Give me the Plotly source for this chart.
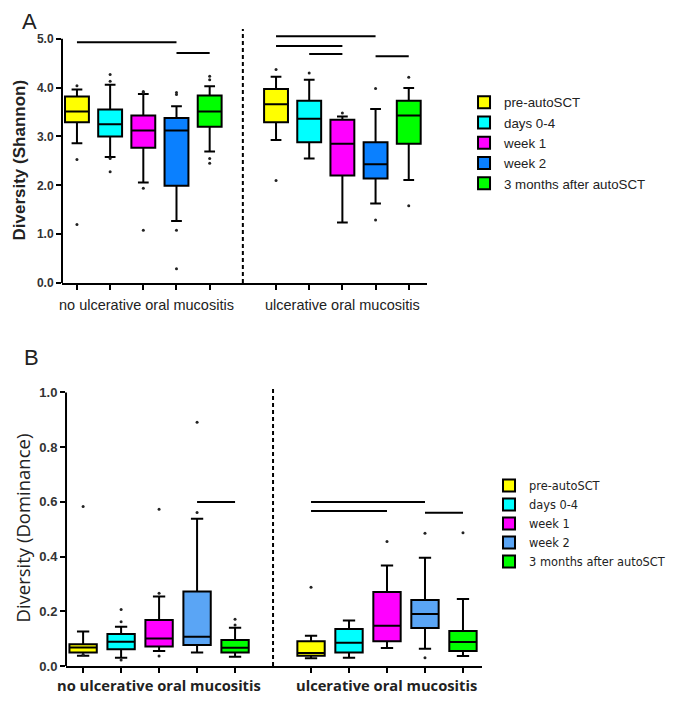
import plotly.graph_objects as go

# time points (legend) and the two patient groups
timepoints = ["pre-autoSCT", "days 0-4", "week 1", "week 2", "3 months after autoSCT"]
groups = ["no ulcerative oral mucositis", "ulcerative oral mucositis"]
colorsA = ["#FFFF00", "#00FFFF", "#FF00FF", "#0A80FF", "#00FF00"]
colorsB = ["#FFFF00", "#00FFFF", "#FF00FF", "#5AA5F5", "#00FF00"]

# Shannon diversity - one [no, yes] pair per time point
shLow = [[2.86, 2.93], [2.58, 2.55], [2.06, 1.24], [1.27, 1.63], [2.69, 2.11]]
shQ1 = [[3.29, 3.29], [3.00, 2.88], [2.77, 2.20], [1.99, 2.14], [3.20, 2.85]]
shMed = [[3.51, 3.66], [3.25, 3.36], [3.12, 2.85], [3.12, 2.43], [3.51, 3.43]]
shQ3 = [[3.82, 3.97], [3.55, 3.73], [3.43, 3.34], [3.38, 2.88], [3.84, 3.73]]
shHigh = [[3.96, 4.22], [4.06, 4.16], [3.87, 3.41], [3.62, 3.56], [4.03, 3.99]]
shOut = [
    [[4.04, 2.53, 1.20], [4.37, 2.10]],
    [[4.27, 4.13, 2.55, 2.28], [4.30]],
    [[3.92, 3.90, 1.94, 1.08], [3.48]],
    [[3.90, 3.86, 1.08, 0.29], [3.98, 1.29]],
    [[4.23, 4.16, 2.55, 2.45], [4.21, 1.58]],
]

# Dominance
doLow = [[0.038, 0.028], [0.030, 0.030], [0.055, 0.066], [0.049, 0.063], [0.034, 0.037]]
doQ1 = [[0.049, 0.038], [0.061, 0.049], [0.071, 0.091], [0.077, 0.139], [0.049, 0.055]]
doMed = [[0.068, 0.048], [0.089, 0.085], [0.101, 0.147], [0.107, 0.190], [0.067, 0.088]]
doQ3 = [[0.080, 0.091], [0.117, 0.135], [0.168, 0.271], [0.272, 0.241], [0.095, 0.128]]
doHigh = [[0.126, 0.111], [0.144, 0.166], [0.254, 0.367], [0.538, 0.396], [0.140, 0.245]]
doOut = [
    [[0.583, 0.042], [0.288]],
    [[0.207, 0.162, 0.022], []],
    [[0.573, 0.266, 0.037], [0.455]],
    [[0.891, 0.561], [0.485, 0.030]],
    [[0.171, 0.150], [0.487]],
]

# significance bars: (from position, to position, height)
sigA = [(0, 3, 4.93), (3, 4, 4.71), (6, 9, 5.05), (6, 8, 4.85), (7, 8, 4.69), (9, 10, 4.64)]
sigB = [(3, 4, 0.60), (6, 9, 0.60), (6, 8, 0.567), (9, 10, 0.56)]

font = "Liberation Sans, Arial, sans-serif"
fig = go.Figure()

def addPanel(xa, ya, legendName, colors, low, q1, med, q3, high, outliers):
    for i, tp in enumerate(timepoints):
        pos = [i, i + 6]
        fig.add_trace(go.Box(
            x=pos, q1=q1[i], median=med[i], q3=q3[i],
            lowerfence=low[i], upperfence=high[i],
            name=tp, legend=legendName, xaxis=xa, yaxis=ya,
            fillcolor=colors[i], line=dict(color="black", width=2),
            width=0.72, whiskerwidth=0.45, boxpoints=False,
            hoverinfo="skip"))
        ox, oy = [], []
        for g in range(2):
            for v in outliers[i][g]:
                ox.append(pos[g])
                oy.append(v)
        fig.add_trace(go.Scatter(
            x=ox, y=oy, mode="markers", showlegend=False,
            xaxis=xa, yaxis=ya,
            marker=dict(color="#222", size=3)))

addPanel("x", "y", "legend", colorsA, shLow, shQ1, shMed, shQ3, shHigh, shOut)
addPanel("x2", "y2", "legend2", colorsB, doLow, doQ1, doMed, doQ3, doHigh, doOut)

shapes = []
for x0, x1, h in sigA:
    shapes.append(dict(type="line", xref="x", yref="y", x0=x0, x1=x1, y0=h, y1=h,
                       line=dict(color="black", width=2)))
for x0, x1, h in sigB:
    shapes.append(dict(type="line", xref="x2", yref="y2", x0=x0, x1=x1, y0=h, y1=h,
                       line=dict(color="black", width=2)))
# dashed group dividers
shapes.append(dict(type="line", xref="x", yref="y domain", x0=5, x1=5, y0=0, y1=1,
                   line=dict(color="black", width=2, dash="4px,3px")))
shapes.append(dict(type="line", xref="x2", yref="y2 domain", x0=5, x1=5, y0=0, y1=1,
                   line=dict(color="black", width=2, dash="4px,3px")))
# y axis lines (stop at the top tick)
shapes.append(dict(type="line", xref="x domain", yref="y", x0=0, x1=0, y0=0, y1=5,
                   line=dict(color="black", width=2)))
shapes.append(dict(type="line", xref="x2 domain", yref="y2", x0=0, x1=0, y0=0, y1=1,
                   line=dict(color="black", width=2)))

annotations = [
    dict(text="A", x=0.0318, y=1.0, xref="paper", yref="paper", showarrow=False,
         xanchor="center", yanchor="top", borderpad=0,
         font=dict(family=font, size=22, color="#222")),
    dict(text="B", x=0.034, y=0.4978, xref="paper", yref="paper", showarrow=False,
         xanchor="center", yanchor="middle", font=dict(family=font, size=22, color="#222")),
    dict(text=groups[0], x=2.1, y=0.5727, xref="x", yref="paper", showarrow=False,
         font=dict(family=font, size=14.5, color="#222")),
    dict(text=groups[1], x=8, y=0.5727, xref="x", yref="paper", showarrow=False,
         font=dict(family=font, size=14.5, color="#222")),
    dict(text="<b>" + groups[0] + "</b>", x=2, y=0.0086, xref="x2", yref="paper", showarrow=False,
         font=dict(family="Open Sans, sans-serif", size=14.7, color="#222")),
    dict(text="<b>" + groups[1] + "</b>", x=8, y=0.0086, xref="x2", yref="paper", showarrow=False,
         font=dict(family="Open Sans, sans-serif", size=14.7, color="#222")),
    dict(text="<b>Diversity (Shannon)</b>", x=0, y=0.7813, xref="paper", yref="paper",
         showarrow=False, textangle=-90, xanchor="left", yanchor="middle",
         font=dict(family=font, size=17, color="#222")),
    dict(text="Diversity (Dominance)", x=0, y=0.2518, xref="paper", yref="paper",
         showarrow=False, textangle=-90, xanchor="left", yanchor="middle",
         font=dict(family="Open Sans, sans-serif", size=18.5, color="#222")),
]

xcommon = dict(range=[-0.45, 10.55], showline=True, linecolor="black", linewidth=2,
               ticks="outside", ticklen=5, tickwidth=2, tickcolor="black",
               tickvals=[0, 1, 2, 3, 4, 6, 7, 8, 9, 10], showticklabels=False,
               showgrid=False, zeroline=False, automargin=False)
ycommon = dict(showline=False, ticks="outside", ticklen=5, tickwidth=2, tickcolor="black",
               showgrid=False, zeroline=False, tickformat=".1f", automargin=False)

# the page puts the figure 8px in from the corner, so the figure is 8px smaller
fig.update_layout(
    width=677, height=695,
    margin=dict(l=0, r=0, t=0, b=0),
    paper_bgcolor="white", plot_bgcolor="white",
    xaxis=dict(xcommon, domain=[0.0798, 0.6189], anchor="y"),
    yaxis=dict(ycommon, domain=[0.6043, 0.9698], range=[0, 5.2], anchor="x",
               tickvals=[0, 1, 2, 3, 4, 5],
               tickfont=dict(family=font, size=12, color="#333", weight="bold")),
    xaxis2=dict(xcommon, domain=[0.0857, 0.7001], anchor="y2", range=[-0.45, 10.5]),
    yaxis2=dict(ycommon, domain=[0.0532, 0.4547], range=[0, 1.02], anchor="x2",
                tickvals=[0, 0.2, 0.4, 0.6, 0.8, 1.0],
                tickfont=dict(family=font, size=13, color="#333", weight="bold")),
    legend=dict(x=0.6736, y=0.8863, xanchor="left", yanchor="top",
                font=dict(family=font, size=13.3, color="#222"),
                bgcolor="rgba(0,0,0,0)", tracegroupgap=0),
    legend2=dict(x=0.7105, y=0.3338, xanchor="left", yanchor="top",
                 font=dict(family="DejaVu Sans, sans-serif", size=11.4, color="#222"),
                 bgcolor="rgba(0,0,0,0)", tracegroupgap=0),
    shapes=shapes,
    annotations=annotations,
)

fig.write_html("out.html")
